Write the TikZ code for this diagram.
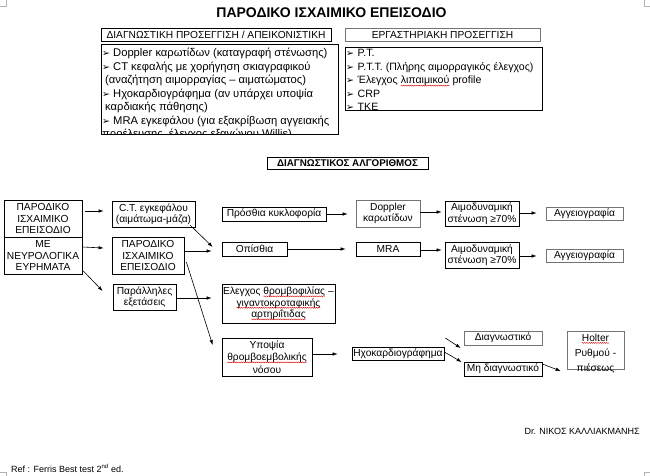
\documentclass[tikz,border=0pt]{standalone}
\usepackage{fontspec}
\setmainfont{Liberation Sans}
\newfontfamily\dejavu{DejaVu Sans}
\usetikzlibrary{arrows.meta,decorations.pathmorphing}
\newcommand\redwave[1]{\tikz[baseline=(rw.base)]{\node[draw=none,fill=none,inner sep=0pt,outer sep=0pt,minimum width=0pt,minimum height=0pt,anchor=base] (rw) {#1};\draw[red!85!black, line width=0.4pt, decorate, decoration={snake,amplitude=0.5pt,segment length=2.2pt}] ([yshift=-1.6pt]rw.base west) -- ([yshift=-1.6pt]rw.base east);}}
\newcommand\blt{\makebox[11pt][l]{\dejavu\fontsize{9.5}{10}\selectfont ➢}}
\newcommand\bltr{\makebox[11.5pt][l]{\dejavu\fontsize{9.5}{10}\selectfont ➢}}
\newcommand\fs{\fontsize{10.2}{11.5}\selectfont}
\newcommand\fl{\fontsize{11.2}{12}\selectfont}
\newcommand\fr{\fontsize{10.6}{12}\selectfont}
\tikzset{
  box/.style={draw, line width=0.7pt, inner sep=1pt, align=center, font=\fs},
  gbox/.style={box, draw=black!55},
  lst/.style={anchor=base west, inner sep=0pt, font=\fl},
  lstr/.style={anchor=base west, inner sep=0pt, font=\fr},
  arr/.style={-{Latex[length=5pt,width=3.5pt]}, line width=0.6pt},
  cmark/.style={draw=black!30, line width=0.5pt}
}
\begin{document}
\begin{tikzpicture}[x=1pt,y=-1pt]
\useasboundingbox (0,0) rectangle (650,476);
% page corner marks
\draw[cmark] (0,6) -- (6,6) -- (6,0);
\draw[cmark] (650,6) -- (644,6) -- (644,0);
\draw[cmark] (0,472) -- (6,472) -- (6,476);
\draw[cmark] (650,472) -- (644,472) -- (644,476);

\node[font=\bfseries\fontsize{14}{16}\selectfont] (title) at (331.5,13) {ΠΑΡΟΔΙΚΟ ΙΣΧΑΙΜΙΚΟ ΕΠΕΙΣΟΔΙΟ};

\node[box, minimum width=230pt, minimum height=13pt, font=\fontsize{10.2}{11}\selectfont] (hl) at (216,34.5) {ΔΙΑΓΝΩΣΤΙΚΗ ΠΡΟΣΕΓΓΙΣΗ / ΑΠΕΙΚΟΝΙΣΤΙΚΗ};
\node[gbox, minimum width=195pt, minimum height=13pt, font=\fontsize{10.2}{11}\selectfont] (hr) at (442.5,34.5) {ΕΡΓΑΣΤΗΡΙΑΚΗ ΠΡΟΣΕΓΓΙΣΗ};

% left list
\begin{scope}
\clip (101,44) rectangle (338,134);
\node[lst] (la1) at (102,56.5) {\blt Doppler καρωτίδων (καταγραφή στένωσης)};
\node[lst] (la2) at (102,70.5) {\blt CT κεφαλής με χορήγηση σκιαγραφικού};
\node[lst] (la3) at (105,84) {(αναζήτηση αιμορραγίας – αιματώματος)};
\node[lst] (la4) at (102,97.5) {\blt Ηχοκαρδιογράφημα (αν υπάρχει υποψία};
\node[lst] (la5) at (105,111) {καρδιακής πάθησης)};
\node[lst] (la6) at (102,124.5) {\blt MRA εγκεφάλου (για εξακρίβωση αγγειακής};
\node[lst] (la7) at (102,138) {προέλευσης, έλεγχος εξαγώνου Willis)};
\end{scope}
\node[draw, line width=0.7pt, minimum width=237pt, minimum height=90pt, inner sep=0pt] (lbox) at (219.5,89) {};

% right list
\begin{scope}
\clip (345,47) rectangle (542,110);
\node[lstr] (lb1) at (346,57) {\bltr P.T.};
\node[lstr] (lb2) at (346,70.5) {\bltr P.T.T. (Πλήρης αιμορραγικός έλεγχος)};
\node[lstr] (lb3) at (346,84) {\bltr Έλεγχος \redwave{λιπαιμικού} profile};
\node[lstr] (lb4) at (346,97.5) {\bltr CRP};
\node[lstr] (lb5) at (346,111) {\bltr TKE};
\end{scope}
\node[draw, line width=0.7pt, minimum width=197pt, minimum height=63pt, inner sep=0pt] (rbox) at (443.5,78.5) {};

\node[box, minimum width=161pt, minimum height=12pt, font=\bfseries\fontsize{9.8}{10}\selectfont] (alg) at (347.5,163) {ΔΙΑΓΝΩΣΤΙΚΟΣ ΑΛΓΟΡΙΘΜΟΣ};

% flow boxes
\node[box, minimum width=78pt, minimum height=37pt] (A) at (43,218.5) {ΠΑΡΟΔΙΚΟ\\ΙΣΧΑΙΜΙΚΟ\\ΕΠΕΙΣΟΔΙΟ};
\node[box, minimum width=78pt, minimum height=37pt] (B) at (43,255.5) {ΜΕ\\ΝΕΥΡΟΛΟΓΙΚΑ\\ΕΥΡΗΜΑΤΑ};
\node[box, minimum width=83pt, minimum height=26pt] (C) at (153.5,214) {C.T. εγκεφάλου\\(αιμάτωμα-μάζα)};
\node[box, minimum width=72pt, minimum height=37pt] (D) at (148,255.5) {ΠΑΡΟΔΙΚΟ\\ΙΣΧΑΙΜΙΚΟ\\ΕΠΕΙΣΟΔΙΟ};
\node[box, minimum width=63pt, minimum height=26pt] (E) at (144.5,297) {Παράλληλες\\εξετάσεις};
\node[box, minimum width=104pt, minimum height=14pt] (F) at (274,214) {Πρόσθια κυκλοφορία};
\node[box, minimum width=65pt, minimum height=14pt] (G) at (254.5,249) {Οπίσθια};
\node[box, minimum width=113pt, minimum height=39pt] (H) at (278.5,303.5) {Ελεγχος \redwave{θρομβοφιλίας} –\\\redwave{γιγαντοκροταφικής}\\\redwave{αρτηριΐτιδας}};
\node[box, minimum width=90pt, minimum height=38pt, font=\fontsize{10.2}{12.5}\selectfont] (I) at (267,357) {Υποψία\\\redwave{θρομβοεμβολικής}\\νόσου};
\node[gbox, minimum width=64pt, minimum height=27pt] (J) at (388,213.5) {Doppler\\καρωτίδων};
\node[box, minimum width=64pt, minimum height=14pt] (K) at (388,249) {MRA};
\node[box, minimum width=74pt, minimum height=25pt] (L) at (482,213.5) {Αιμοδυναμική\\στένωση ≥70\%};
\node[box, minimum width=74pt, minimum height=26pt] (M) at (482,255) {Αιμοδυναμική\\στένωση ≥70\%};
\node[gbox, minimum width=77pt, minimum height=13pt] (N) at (584.5,213.5) {Αγγειογραφία};
\node[gbox, minimum width=77pt, minimum height=13pt] (O) at (584.5,255.5) {Αγγειογραφία};
\node[box, minimum width=92pt, minimum height=13pt] (P) at (398,353.5) {Ηχοκαρδιογράφημα};
\node[gbox, minimum width=78pt, minimum height=14pt] (Q) at (503,338) {Διαγνωστικό};
\node[box, minimum width=78pt, minimum height=14pt] (R) at (503,369) {Μη διαγνωστικό};
\node[gbox, minimum width=57pt, minimum height=38pt] (S) at (595.5,350) {};
\node[align=center, inner sep=0pt, font=\fontsize{10.2}{15}\selectfont] (St) at ([shift={(0,3.5)}]S.center) {\redwave{Holter}\\Ρυθμού -\\πιέσεως};

% connectors
\draw[arr] ([shift={(3,-7.5)}]A.east) -- ([shift={(-8,-3)}]C.west);
\draw[arr] ([shift={(0,-8.5)}]B.east) -- ([shift={(-8,-7.5)}]D.west);
\draw[arr] ([shift={(1,15.5)}]B.east) -- ([shift={(-10,-6)}]E.west);
\draw[arr] ([shift={(-5,-2)}]C.south east) -- ([shift={(-9,-2)}]G.west);
\draw[arr] ([shift={(0,-4.5)}]D.east) -- ([shift={(-10,2)}]G.west);
\draw[arr] ([shift={(2,6.5)}]D.east) -- ([shift={(-9,-12)}]I.west);
\draw[arr] ([shift={(0,1)}]E.east) -- ([shift={(-10,-5.5)}]H.west);
\draw[arr] (F.east) -- ([shift={(-8,0.5)}]J.west);
\draw[arr] (G.east) -- ([shift={(-10,0)}]K.west);
\draw[arr] ([shift={(0,-1.5)}]J.east) -- ([shift={(-3,-1.5)}]L.west);
\draw[arr] ([shift={(0,1)}]K.east) -- ([shift={(-3,-5)}]M.west);
\draw[arr] ([shift={(0,-0.5)}]L.east) -- ([shift={(-9,-0.5)}]N.west);
\draw[arr] ([shift={(0,1)}]M.east) -- ([shift={(-9,0.5)}]O.west);
\draw[arr] ([shift={(0,-3)}]I.east) -- ([shift={(-14,0.5)}]P.west);
\draw[arr] ([shift={(1,-15.5)}]P.east) -- ([shift={(-3,10)}]Q.west);
\draw[arr] ([shift={(0,-1.5)}]P.east) -- ([shift={(-2,-7)}]R.west);
\draw[arr] ([shift={(0,-5)}]R.east) -- ([shift={(-6,21)}]S.west);

% footer
\node[anchor=east, inner sep=0pt, font=\fontsize{9}{10}\selectfont] (auth) at (640,431) {Dr. ΝΙΚΟΣ ΚΑΛΛΙΑΚΜΑΝΗΣ};
\node[anchor=west, inner sep=0pt, font=\fontsize{9}{10}\selectfont] (ref) at (11,468) {Ref : Ferris Best test 2\textsuperscript{nd} ed.};
\end{tikzpicture}
\end{document}
